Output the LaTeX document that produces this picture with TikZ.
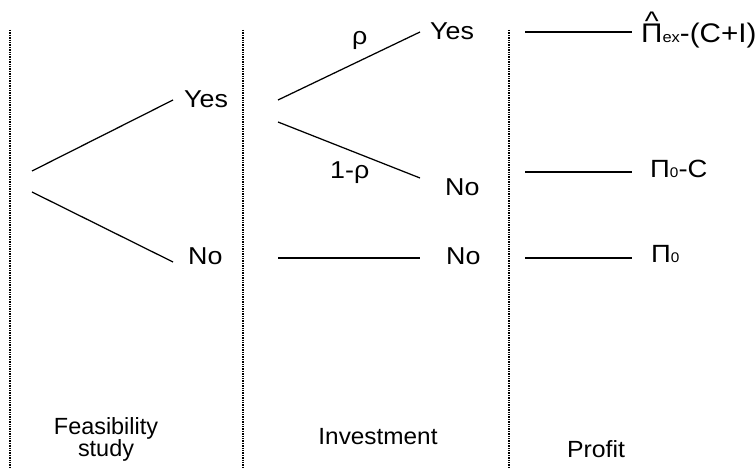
\documentclass[tikz,border=0pt]{standalone}
\usepackage{fontspec}
\usepackage{graphicx}
\setmainfont{Liberation Sans}
\newcommand{\hatpi}{{\ooalign{Π\cr\hidewidth\raisebox{0.45em}{\textasciicircum}\hidewidth\cr}}}
\newcommand{\widetext}[1]{\scalebox{1.1}[1]{#1}}
\begin{document}
\begin{tikzpicture}[x=1bp,y=-1bp,
  branch/.style={line width=1.25bp},
  divider/.style={line width=1.3bp, dash pattern=on 1.4bp off 1bp},
  lbl/.style={anchor=base west, inner sep=0pt, font=\fontsize{24.5}{28}\selectfont},
  stagelbl/.style={anchor=base, inner sep=0pt, font=\fontsize{23.5}{21}\selectfont},
  paylbl/.style={anchor=base west, inner sep=0pt, font=\fontsize{25}{28}\selectfont}]
\useasboundingbox (0,0) rectangle (755,468);
% dividers
\coordinate (d1t) at (10,30);  \coordinate (d1b) at (10,468);
\coordinate (d2t) at (243,30); \coordinate (d2b) at (243,468);
\coordinate (d3t) at (509,30); \coordinate (d3b) at (509,468);
\draw[divider] (d1t) -- (d1b);
\draw[divider] (d2t) -- (d2b);
\draw[divider] (d3t) -- (d3b);
% feasibility branches
\coordinate (f0a) at (32,171); \coordinate (f1) at (173,100);
\coordinate (f0b) at (32,192); \coordinate (f2) at (173,262);
\draw[branch] (f0a) -- (f1);
\draw[branch] (f0b) -- (f2);
\node[lbl] (fyes) at (184,108) {\widetext{Yes}};
\node[lbl] (fno) at (188,265) {\widetext{No}};
% investment branches
\coordinate (i0a) at (278,100); \coordinate (i1) at (420,32);
\coordinate (i0b) at (278,122); \coordinate (i2) at (420,178);
\coordinate (i0c) at (278,258); \coordinate (i3) at (420,258);
\draw[branch] (i0a) -- (i1);
\draw[branch] (i0b) -- (i2);
\draw[branch] (i0c) -- (i3);
\node[lbl] (rho) at (352,45) {\widetext{ρ}};
\node[lbl] (omrho) at (330,179) {\widetext{1-ρ}};
\node[lbl] (iyes) at (430,40) {\widetext{Yes}};
\node[lbl] (ino1) at (445,196) {\widetext{No}};
\node[lbl] (ino2) at (446,265) {\widetext{No}};
% profit lines
\coordinate (p1a) at (525,32);  \coordinate (p1b) at (632,32);
\coordinate (p2a) at (525,172); \coordinate (p2b) at (632,172);
\coordinate (p3a) at (525,258); \coordinate (p3b) at (632,258);
\draw[branch] (p1a) -- (p1b);
\draw[branch] (p2a) -- (p2b);
\draw[branch] (p3a) -- (p3b);
\node[paylbl, font=\fontsize{27}{30}\selectfont] (pay1) at (641,43)
  {\widetext{\hatpi{\fontsize{15}{15}\selectfont ex}-(C+I)}};
\node[paylbl] (pay2) at (650,178)
  {\widetext{Π{\fontsize{14}{14}\selectfont 0}-C}};
\node[paylbl] (pay3) at (651,263)
  {\widetext{Π{\fontsize{14}{14}\selectfont 0}}};
% stage labels
\node[stagelbl, align=center, anchor=north] (feas) at (106,417) {Feasibility\\study};
\node[stagelbl] (inv) at (378,444) {\scalebox{1.04}[1]{Investment}};
\node[stagelbl] (prof) at (596,457) {\scalebox{1.06}[1]{Profit}};
\end{tikzpicture}
\end{document}
